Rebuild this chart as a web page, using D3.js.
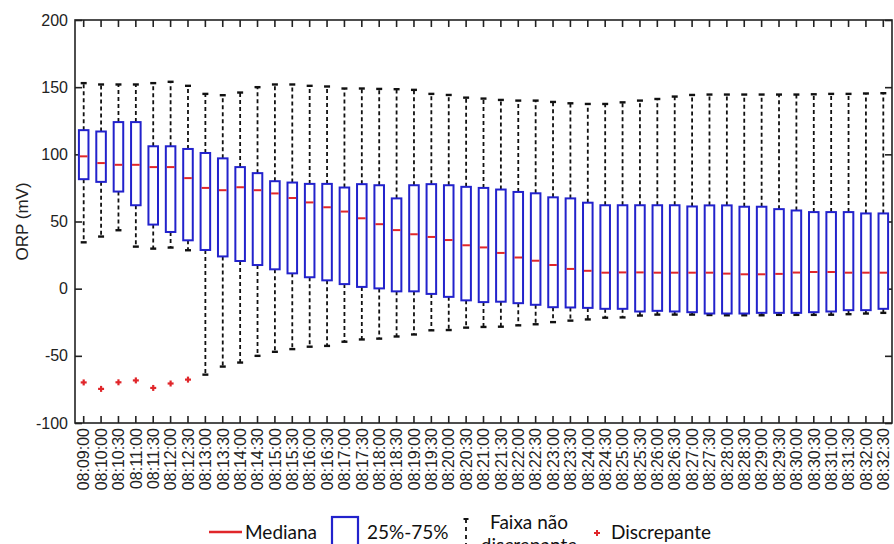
<!DOCTYPE html>
<html>
<head>
<meta charset="utf-8">
<script src="https://cdn.jsdelivr.net/npm/d3@7.9.0/dist/d3.min.js"></script>
<style>
  body { margin: 0; background: #fff; }
  svg { display: block; }
  .tick text { font-family: "Liberation Sans", Arial, sans-serif; font-size: 16px; fill: #222; }
  .legend text { font-family: Lato, "Open Sans", sans-serif; font-size: 19px; fill: #111; }
</style>
</head>
<body>
<svg id="chart" width="894" height="544"></svg>
<script>
// time labels (one box per label)
const labels = [
  "08:09:00","08:10:00","08:10:30","08:11:00","08:11:30","08:12:00","08:12:30","08:13:00",
  "08:13:30","08:14:00","08:14:30","08:15:00","08:15:30","08:16:00","08:16:30","08:17:00",
  "08:17:30","08:18:00","08:18:30","08:19:00","08:19:30","08:20:00","08:20:30","08:21:00",
  "08:21:30","08:22:00","08:22:30","08:23:00","08:23:30","08:24:00","08:24:30","08:25:00",
  "08:25:30","08:26:00","08:26:30","08:27:00","08:27:30","08:28:00","08:28:30","08:29:00",
  "08:29:30","08:30:00","08:30:30","08:31:00","08:31:30","08:32:00","08:32:30"
];

// upper whisker end (mV)
const whiskerHi = [153,152,152,152,153,154,151,145,144,146,150,152,152,151,150.5,149,149,148.7,148.5,148,145,144.2,142.2,141.5,
  140.5,140,140,139,138,137.5,137.5,138.7,140,141.2,143,144.2,144.5,144.5,144.5,144.5,144.5,144.5,144.7,145,145,145.3,145.5];
// 75th percentile
const q3 = [118,117,124,124,106,106,104,101,97,90.5,86,80,79,78,78,75.3,77.8,77,67.2,77,77.8,77,75.8,75,
  73.8,72,71,68,67.2,64,62.1,62.1,62.1,62.1,62.1,61.2,62,62,61,61,59.2,58.2,57,57,57,56,56];
// median
const median = [98.5,93.5,92.2,92.2,90.5,90.5,82.3,75,73.3,75.5,73.3,70.9,67.5,64.2,60.6,57.4,52.4,48,43.6,40.5,38.5,36.2,32.3,30.7,
  26.6,23.2,20.8,17.6,14.7,13.3,11.9,12.1,12.1,11.9,11.9,11.9,11.9,11.2,10.7,10.7,11,12,12.4,12.4,11.9,11.9,11.9];
// 25th percentile
const q1 = [81.5,79.5,72.3,62.1,47.7,42.2,36,28.8,24,20.6,17.6,14.4,11.4,8.5,6.2,3.4,1.3,0.2,-2,-2,-3.9,-6.1,-8.7,-10,
  -9.7,-10.8,-12,-13.8,-14,-14.3,-15,-15,-17,-16.5,-17,-17.5,-18.5,-18.5,-18.5,-18,-18,-18,-17.5,-17,-16,-16,-15];
// lower whisker end
const whiskerLo = [34.5,38.8,43.5,31.3,29.8,30.6,28.6,-64,-58,-55,-50,-47,-45,-43.2,-42.6,-39.5,-37.8,-37.2,-35.6,-34.1,-31,-30.8,-29,-28.5,
  -28.3,-27.3,-26.5,-24.9,-23.8,-22.9,-21.6,-21.4,-20,-19.3,-19.3,-19.3,-19.6,-19.8,-19.8,-19.8,-19.5,-19.5,-19.5,-19.4,-19,-18.5,-18];
// outliers: box index and value
const outlierBox = [0,1,2,3,4,5,6];
const outlierVal = [-69.8,-74.6,-69.7,-68.3,-73.9,-70.6,-67.7];

const yTicks = [-100,-50,0,50,100,150,200];

const blue = "#2222cc", red = "#e0262a";
const plotL = 75, plotR = 892, plotT = 20, plotB = 423;

const svg = d3.select("#chart");

const x = d3.scaleBand().domain(labels).range([plotL, plotR]).padding(0);
const y = d3.scaleLinear().domain([-100, 200]).range([plotB, plotT]);
const bw = x.bandwidth();
const boxW = bw * 0.55;
const cx = (i) => x(labels[i]) + bw / 2;

const data = labels.map((l, i) => ({
  i, hi: whiskerHi[i], q3: q3[i], med: median[i], q1: q1[i], lo: whiskerLo[i]
}));

// axes (inward ticks, box on)
svg.append("g").attr("transform", `translate(${plotL},0)`)
  .call(d3.axisLeft(y).tickValues(yTicks).tickSize(-7).tickPadding(7).tickFormat(d => String(d)))
  .call(g => g.select(".domain").remove());
svg.append("g").attr("transform", `translate(${plotR},0)`)
  .call(d3.axisRight(y).tickValues(yTicks).tickSize(-7).tickFormat(""))
  .call(g => g.select(".domain").remove());
svg.append("g").attr("transform", `translate(0,${plotB})`)
  .call(d3.axisBottom(x).tickSize(-7).tickSizeOuter(0))
  .call(g => g.select(".domain").remove())
  .call(g => g.selectAll("text")
    .attr("transform", "rotate(-90)")
    .attr("text-anchor", "end")
    .attr("x", -5).attr("y", 0).attr("dy", "0.36em"));
svg.append("g").attr("transform", `translate(0,${plotT})`)
  .call(d3.axisTop(x).tickSize(-7).tickSizeOuter(0).tickFormat(""))
  .call(g => g.select(".domain").remove());
svg.selectAll(".tick line").attr("stroke", "#222").attr("stroke-width", 1.6);

svg.append("rect")
  .attr("x", plotL).attr("y", plotT)
  .attr("width", plotR - plotL).attr("height", plotB - plotT)
  .attr("fill", "none").attr("stroke", "#222").attr("stroke-width", 1.6);

// y label
svg.append("text")
  .attr("transform", `translate(22,${(plotT + plotB) / 2}) rotate(-90)`)
  .attr("text-anchor", "middle")
  .attr("dy", "0.35em")
  .style("font-family", '"Liberation Sans", Arial, sans-serif')
  .style("font-size", "17px")
  .style("fill", "#222")
  .text("ORP (mV)");

const boxes = svg.append("g").selectAll("g").data(data).join("g");

// whiskers
boxes.append("line")
  .attr("x1", d => cx(d.i)).attr("x2", d => cx(d.i))
  .attr("y1", d => y(d.q3)).attr("y2", d => y(d.hi))
  .attr("stroke", "#111").attr("stroke-width", 1.8).attr("stroke-dasharray", "4,3");
boxes.append("line")
  .attr("x1", d => cx(d.i)).attr("x2", d => cx(d.i))
  .attr("y1", d => y(d.q1)).attr("y2", d => y(d.lo))
  .attr("stroke", "#111").attr("stroke-width", 1.8).attr("stroke-dasharray", "4,3");
// caps
boxes.append("line")
  .attr("x1", d => cx(d.i) - 3).attr("x2", d => cx(d.i) + 3)
  .attr("y1", d => y(d.hi)).attr("y2", d => y(d.hi))
  .attr("stroke", "#111").attr("stroke-width", 2.4);
boxes.append("line")
  .attr("x1", d => cx(d.i) - 3).attr("x2", d => cx(d.i) + 3)
  .attr("y1", d => y(d.lo)).attr("y2", d => y(d.lo))
  .attr("stroke", "#111").attr("stroke-width", 2.4);

// boxes
boxes.append("rect")
  .attr("x", d => cx(d.i) - boxW / 2).attr("width", boxW)
  .attr("y", d => y(d.q3)).attr("height", d => y(d.q1) - y(d.q3))
  .attr("fill", "#fff").attr("stroke", blue).attr("stroke-width", 2);

// medians
boxes.append("line")
  .attr("x1", d => cx(d.i) - boxW / 2 + 1).attr("x2", d => cx(d.i) + boxW / 2 - 1)
  .attr("y1", d => y(d.med)).attr("y2", d => y(d.med))
  .attr("stroke", red).attr("stroke-width", 2);

// outliers
const plus = (g, px, py, s) => {
  g.append("line").attr("x1", px - s).attr("x2", px + s).attr("y1", py).attr("y2", py);
  g.append("line").attr("x1", px).attr("x2", px).attr("y1", py - s).attr("y2", py + s);
};
const out = svg.append("g").attr("stroke", red).attr("stroke-width", 2.2);
outlierBox.forEach((b, k) => plus(out, cx(b), y(outlierVal[k]), 3));

// legend
const lg = svg.append("g").attr("class", "legend");
lg.append("line").attr("x1", 209).attr("x2", 242).attr("y1", 532).attr("y2", 532)
  .attr("stroke", red).attr("stroke-width", 2.5);
lg.append("text").attr("x", 245).attr("y", 539).text("Mediana");
lg.append("rect").attr("x", 332).attr("y", 517).attr("width", 26).attr("height", 40)
  .attr("fill", "none").attr("stroke", blue).attr("stroke-width", 2.2);
lg.append("text").attr("x", 367).attr("y", 539).text("25%-75%");
lg.append("line").attr("x1", 463.5).attr("x2", 468.5).attr("y1", 519).attr("y2", 519)
  .attr("stroke", "#111").attr("stroke-width", 2);
lg.append("line").attr("x1", 466).attr("x2", 466).attr("y1", 519).attr("y2", 560)
  .attr("stroke", "#111").attr("stroke-width", 1.8).attr("stroke-dasharray", "4,4");
lg.append("text").attr("x", 529).attr("y", 529).attr("text-anchor", "middle").text("Faixa não");
lg.append("text").attr("x", 529).attr("y", 552).attr("text-anchor", "middle").text("discrepante");
const lp = lg.append("g").attr("stroke", red).attr("stroke-width", 2);
plus(lp, 597, 533, 3);
lg.append("text").attr("x", 611).attr("y", 539).text("Discrepante");
</script>
</body>
</html>
